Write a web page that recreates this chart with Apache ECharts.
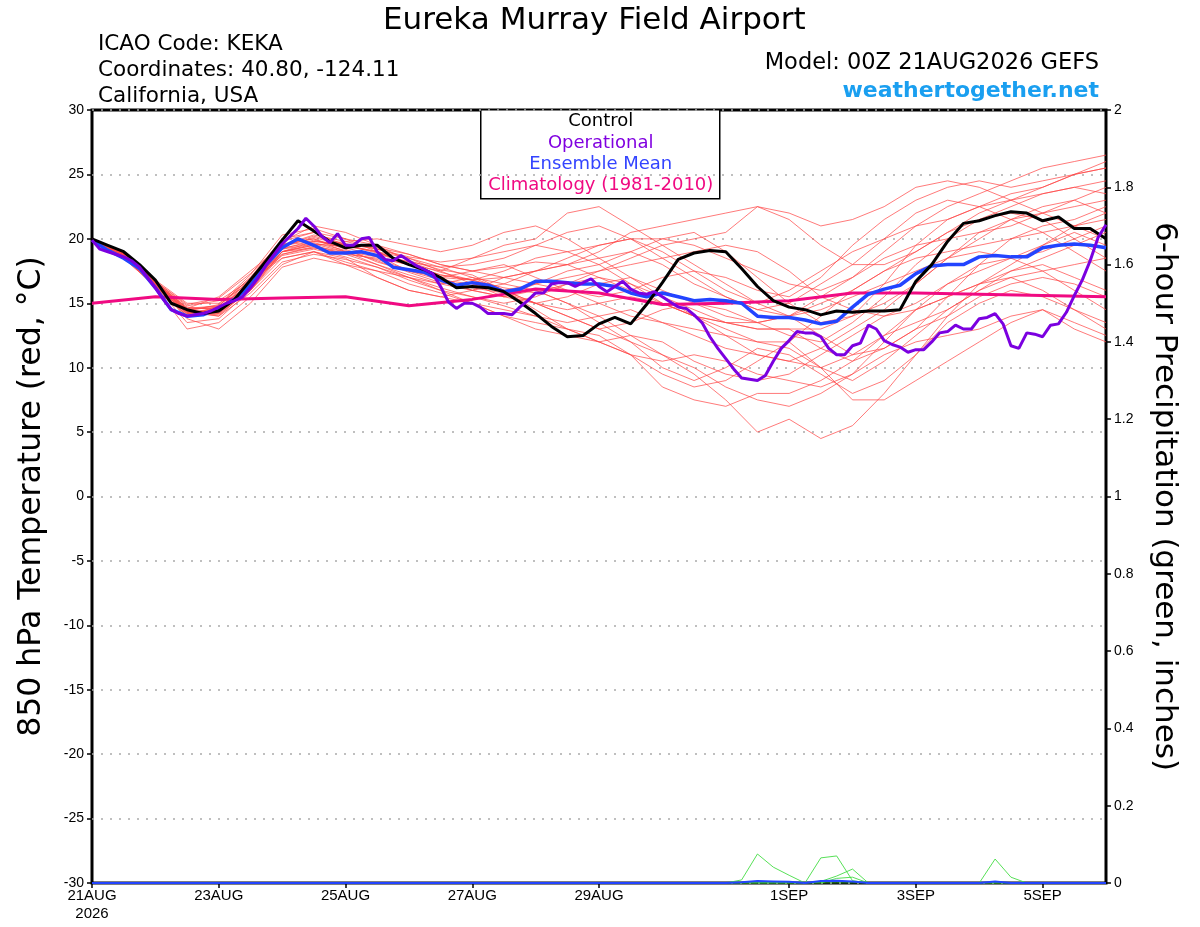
<!DOCTYPE html>
<html>
<head>
<meta charset="utf-8">
<script src="https://cdn.jsdelivr.net/npm/echarts@6/dist/echarts.min.js"></script>
<style>
html,body{margin:0;padding:0;background:#fff;}
#chart{width:1200px;height:927px;}
</style>
</head>
<body>
<div id="chart"></div>
<script>
// ---------- DATA ----------
// x-axis tick labels (days after 21AUG 00Z)
const tickDays = [0, 2, 4, 6, 8, 11, 13, 15];
const tickLabels = ['21AUG\n2026', '23AUG', '25AUG', '27AUG', '29AUG', '1SEP', '3SEP', '5SEP'];

// Control run, 6-hourly from 21AUG 00Z (°C)
const controlTemp = [20.0,19.5,19.0,18.0,16.8,15.0,14.5,14.2,14.4,15.3,16.8,18.3,19.9,21.4,20.6,19.8,19.3,19.5,19.5,18.5,18.0,17.6,17.0,16.2,16.3,16.2,15.9,15.1,14.2,13.2,12.4,12.5,13.4,13.9,13.4,14.9,16.6,18.4,18.9,19.1,19.0,17.7,16.3,15.2,14.7,14.5,14.1,14.4,14.3,14.4,14.4,14.5,16.7,18.0,19.8,21.2,21.4,21.8,22.1,22.0,21.4,21.7,20.8,20.8,20.0];

// Ensemble mean, 6-hourly (°C)
const meanTemp = [19.9,19.1,18.5,17.7,16.2,14.5,14.0,14.1,14.6,15.3,16.4,18.0,19.3,20.0,19.5,18.9,18.9,19.0,18.7,17.8,17.6,17.4,16.8,16.4,16.6,16.4,15.9,16.1,16.7,16.7,16.6,16.5,16.5,16.3,15.8,15.5,15.8,15.5,15.2,15.3,15.2,15.0,14.0,13.9,13.9,13.7,13.4,13.6,14.7,15.7,16.1,16.4,17.3,17.9,18.0,18.0,18.6,18.7,18.6,18.6,19.3,19.5,19.6,19.5,19.3];

// Operational run, 3-hourly (°C)
const operationalTemp = [19.9,19.2,19.0,18.8,18.6,18.3,17.8,17.0,16.2,15.3,14.5,14.2,14.0,14.1,14.2,14.4,14.7,15.0,15.2,15.5,16.2,17.0,18.0,18.8,19.6,20.2,20.8,21.6,21.0,20.2,19.7,20.4,19.5,19.5,20.0,20.1,19.0,18.4,18.3,18.7,18.3,17.9,17.6,17.3,16.3,15.1,14.6,15.0,15.0,14.7,14.2,14.2,14.2,14.1,14.7,15.2,15.8,15.8,16.5,16.6,16.6,16.3,16.6,16.9,16.3,15.9,16.3,16.7,16.1,15.8,15.7,15.9,15.5,15.1,14.7,14.6,14.1,13.5,12.4,11.5,10.7,9.9,9.2,9.1,9.0,9.4,10.5,11.5,12.1,12.8,12.7,12.7,12.4,11.5,11.0,11.0,11.7,11.9,13.3,13.0,12.1,11.8,11.6,11.2,11.4,11.4,12.0,12.7,12.8,13.3,13.0,13.0,13.8,13.9,14.2,13.4,11.7,11.5,12.7,12.6,12.4,13.3,13.4,14.3,15.6,16.8,18.3,20.1,21.1];

// Climatology (1981-2010), daily (°C)
const climoTemp = [15.0,15.5,15.3,15.4,15.5,14.8,15.3,16.1,15.8,14.9,15.0,15.2,15.8,15.8,15.7,15.6,15.5];

// Ensemble members, 12-hourly (°C)
const member01 = [20.0,18.8,16.4,14.0,14.8,17.0,20.0,20.5,19.5,19.0,18.0,17.5,18.5,19.5,20.0,22.0,22.5,21.0,19.5,18.0,16.5,15.0,14.0,15.5,17.0,19.0,21.0,22.5,23.5,24.5,25.5,26.0,26.5];
const member02 = [20.0,18.6,16.6,14.3,14.0,16.2,19.0,19.3,18.8,18.0,17.2,16.5,16.0,15.5,16.5,17.5,18.0,19.0,20.0,20.5,19.0,17.0,15.0,13.5,14.0,16.5,19.5,21.5,22.5,23.0,24.0,25.0,25.5];
const member03 = [20.0,18.9,16.7,14.8,15.2,16.8,18.5,19.0,18.2,17.5,16.5,15.8,15.0,14.0,13.5,13.0,12.5,11.0,8.5,7.5,7.0,8.0,8.0,9.0,10.5,12.5,14.5,15.5,16.5,17.5,18.5,19.5,20.5];
const member04 = [20.0,18.5,16.3,13.5,13.8,16.0,19.5,20.3,19.8,19.2,18.5,17.8,17.0,16.5,16.0,15.0,14.0,12.5,11.0,9.5,7.5,5.0,6.0,4.5,5.5,8.0,11.0,14.0,16.5,18.0,19.5,21.0,22.0];
const member05 = [20.0,18.7,16.2,13.0,13.5,15.5,18.0,19.0,18.5,17.0,16.0,15.5,16.0,17.0,17.5,18.0,19.0,20.5,21.0,21.5,22.0,22.5,22.0,21.0,21.5,22.5,24.0,24.5,24.0,23.0,22.0,21.0,20.0];
const member06 = [20.0,18.8,16.5,14.5,14.2,16.3,19.8,21.0,20.5,19.5,18.3,17.6,17.2,16.0,15.0,14.0,13.0,13.5,14.5,15.0,14.5,13.5,12.5,12.0,13.5,15.5,18.0,20.0,21.5,22.0,21.5,20.0,18.5];
const member07 = [20.0,18.6,16.6,14.6,14.6,16.8,19.2,19.6,19.0,18.6,18.0,17.2,16.8,17.5,18.5,19.0,18.0,16.5,15.0,14.0,13.5,13.0,13.0,11.5,10.5,11.5,13.0,14.0,15.5,16.5,17.0,16.5,15.5];
const member08 = [20.0,18.7,16.4,14.2,14.4,16.0,18.8,19.4,19.0,18.8,18.2,17.8,18.0,18.5,19.5,20.5,21.0,20.0,18.5,17.0,15.5,14.5,15.0,16.5,18.0,20.0,22.0,23.0,22.5,21.5,20.5,19.0,17.5];
const member09 = [20.0,18.9,16.8,15.0,15.0,16.6,18.7,19.2,18.6,17.8,16.8,16.0,15.5,14.8,14.0,13.5,14.0,14.5,13.5,12.5,11.5,11.0,10.5,10.0,11.0,12.5,13.5,14.5,16.0,17.5,18.0,17.0,16.0];
const member10 = [20.0,18.6,16.4,14.4,14.9,17.2,20.3,20.8,20.0,19.5,18.8,18.0,17.5,17.0,16.5,16.0,15.5,16.0,17.0,17.5,17.0,16.0,15.5,17.0,19.5,21.5,23.0,24.0,24.5,24.0,24.5,25.0,25.5];
const member11 = [20.0,18.8,16.5,13.8,13.0,15.0,17.8,18.5,18.0,17.5,17.0,16.0,15.0,14.5,14.0,13.0,12.0,11.0,10.5,11.0,10.5,9.5,9.0,8.5,9.5,12.0,14.5,16.5,18.0,18.5,19.0,20.0,21.0];
const member12 = [20.0,18.7,16.6,14.7,14.5,16.5,19.0,19.6,19.4,19.0,18.5,17.5,16.5,15.5,15.0,15.5,16.5,17.0,16.0,15.0,14.0,13.5,14.0,14.5,15.5,16.5,17.5,18.5,19.0,18.5,17.5,16.0,14.5];
const member13 = [20.0,18.5,16.3,14.3,14.6,16.5,19.5,20.0,19.2,18.2,17.5,17.0,17.5,18.0,17.0,16.0,15.0,14.0,13.5,13.0,12.5,12.0,12.0,10.0,7.5,7.5,9.0,10.5,12.0,13.5,14.5,13.0,12.0];
const member14 = [20.0,18.8,16.7,14.6,15.5,17.5,19.5,19.8,19.5,19.0,18.0,16.8,16.0,16.5,17.5,18.5,19.5,20.0,20.0,19.5,18.5,17.5,16.5,16.0,17.0,18.5,19.5,20.0,20.5,21.0,22.0,23.0,24.0];
const member15 = [20.0,18.7,16.4,14.1,14.2,16.0,19.0,19.5,18.8,18.5,18.0,17.2,16.8,16.0,15.0,14.5,15.0,15.5,15.0,14.0,13.0,12.0,11.5,10.0,9.0,10.5,12.5,14.5,16.0,17.0,17.5,18.0,18.5];
const member16 = [20.0,18.6,16.5,14.5,14.8,16.8,19.5,20.2,19.6,19.3,18.8,18.0,17.5,17.8,18.2,18.0,17.0,16.0,15.0,14.0,13.5,13.5,14.0,15.0,16.0,17.5,18.5,19.0,19.5,20.0,20.5,21.0,21.5];
const member17 = [20.0,18.8,16.6,14.4,14.0,15.8,18.2,18.8,18.4,17.8,17.0,16.2,15.5,15.0,15.5,16.5,17.0,16.5,15.5,14.5,13.5,13.0,13.0,13.0,14.0,15.0,16.5,18.5,20.0,21.5,22.5,23.0,22.0];
const member18 = [20.0,18.7,16.3,14.0,14.3,16.2,19.2,19.9,19.3,18.7,17.5,16.8,16.5,16.0,16.5,17.0,17.5,18.0,18.5,19.0,19.5,19.0,17.5,15.5,14.5,14.0,14.5,15.5,16.5,17.0,16.0,14.5,13.0];
const member19 = [20.0,18.6,16.6,14.5,14.7,16.5,18.8,19.3,18.9,18.4,17.6,17.0,16.8,17.0,17.5,18.0,18.5,19.0,18.0,16.5,15.5,14.5,14.0,12.5,11.0,11.5,13.0,15.5,18.0,20.0,21.0,21.5,22.5];
const member20 = [20.0,18.9,16.5,14.2,14.5,16.4,19.4,20.1,19.5,18.9,18.2,17.4,16.8,16.2,15.8,16.5,17.5,18.5,19.5,20.0,20.5,22.5,21.5,19.5,18.0,18.0,19.0,20.5,22.0,23.0,23.5,24.0,23.5];
const member21 = [20.0,18.7,16.5,14.4,14.3,16.0,18.5,19.0,18.0,17.0,16.0,15.5,15.0,14.0,13.0,12.5,12.0,11.0,9.5,8.5,9.0,10.5,12.0,14.0,16.0,17.5,19.0,20.5,21.5,22.5,23.5,24.0,24.5];
const member22 = [20.0,18.8,16.6,14.6,14.8,17.0,19.8,20.5,20.0,19.0,18.0,17.0,16.0,15.5,16.0,15.0,13.5,12.0,10.0,9.0,10.0,11.5,11.0,9.5,8.0,9.0,11.0,13.5,15.0,16.0,15.5,14.5,13.5];
const member23 = [20.0,18.6,16.4,14.2,14.6,16.6,19.0,19.5,19.8,20.0,19.5,19.0,19.5,20.5,21.0,20.0,18.5,17.0,15.5,14.0,12.5,11.0,10.5,11.5,13.0,14.5,16.5,18.5,20.5,21.5,22.0,22.5,23.0];
const member24 = [20.0,18.9,16.7,14.9,15.4,17.3,19.6,20.0,19.0,18.0,17.0,16.5,17.0,16.0,14.5,13.0,12.0,12.5,12.0,10.5,9.5,9.0,9.5,11.0,12.5,14.0,15.0,16.5,17.5,18.5,19.5,20.5,19.5];
const member25 = [20.0,18.7,16.5,14.3,14.1,16.1,19.0,19.8,19.6,19.2,18.6,18.2,18.5,19.0,19.5,19.0,19.5,20.0,19.0,17.5,16.0,15.0,16.0,17.5,19.0,20.0,21.0,21.5,22.5,23.5,24.0,25.0,26.0];
const member26 = [20.0,18.8,16.3,14.0,14.4,16.3,19.3,19.7,19.1,18.3,17.4,16.6,16.2,15.8,15.0,14.0,13.0,12.0,11.0,10.0,8.5,7.5,7.0,8.0,9.5,11.0,12.0,12.5,13.0,14.0,14.5,13.5,12.5];

// 6-hour precipitation (inches), 6-hourly
const precipMemberA = [0,0,0,0,0,0,0,0,0,0,0,0,0,0,0,0,0,0,0,0,0,0,0,0,0,0,0,0,0,0,0,0,0,0,0,0,0,0,0,0,0,0.008,0.075,0.041,0.02,0,0.065,0.07,0.006,0,0,0,0,0,0,0,0,0,0,0,0,0,0,0,0];
const precipMemberB = [0,0,0,0,0,0,0,0,0,0,0,0,0,0,0,0,0,0,0,0,0,0,0,0,0,0,0,0,0,0,0,0,0,0,0,0,0,0,0,0,0,0,0,0,0,0,0.004,0.018,0.036,0,0,0,0,0,0,0,0,0,0,0,0,0,0,0,0];
const precipMemberC = [0,0,0,0,0,0,0,0,0,0,0,0,0,0,0,0,0,0,0,0,0,0,0,0,0,0,0,0,0,0,0,0,0,0,0,0,0,0,0,0,0,0,0,0,0,0,0,0.012,0.015,0,0,0,0,0,0,0,0,0,0,0,0,0,0,0,0];
const precipMemberD = [0,0,0,0,0,0,0,0,0,0,0,0,0,0,0,0,0,0,0,0,0,0,0,0,0,0,0,0,0,0,0,0,0,0,0,0,0,0,0,0,0,0,0,0,0,0,0,0,0,0,0,0,0,0,0,0,0,0.062,0.015,0,0,0,0,0,0];
const precipMean = [0,0,0,0,0,0,0,0,0,0,0,0,0,0,0,0,0,0,0,0,0,0,0,0,0,0,0,0,0,0,0,0,0,0,0,0,0,0,0,0,0,0.002,0.005,0.004,0.003,0,0.005,0.006,0.004,0,0,0,0,0,0,0,0,0.004,0,0,0,0,0,0,0];

// ---------- CHART ----------
const members = [member01,member02,member03,member04,member05,member06,member07,member08,member09,member10,
                 member11,member12,member13,member14,member15,member16,member17,member18,member19,member20,
                 member21,member22,member23,member24,member25,member26];
const precipMembers = [precipMemberA, precipMemberB, precipMemberC, precipMemberD];

const toPairs = (arr, stepHours) => arr.map((v, i) => [i * stepHours, v]);
const tickHours = tickDays.map(d => d * 24);
const labelFor = {};
tickHours.forEach((h, i) => { labelFor[h] = tickLabels[i]; });

const FONT = 'Liberation Sans, Arial, Helvetica, sans-serif';
const WIDE = 'DejaVu Sans, Liberation Sans, sans-serif';

const series = [];
members.forEach((m, idx) => {
  series.push({
    name: 'member' + (idx + 1), type: 'line', data: toPairs(m, 12),
    showSymbol: false, silent: true, animation: false, z: 2,
    lineStyle: { color: 'rgba(255,70,70,0.8)', width: 0.9 }
  });
});
precipMembers.forEach((p, idx) => {
  series.push({
    name: 'precip' + (idx + 1), type: 'line', yAxisIndex: 1, data: toPairs(p, 6),
    showSymbol: false, silent: true, animation: false, z: 3,
    lineStyle: { color: '#44dd44', width: 0.9 }
  });
});
series.push({
  name: 'Ensemble Mean Precip', type: 'line', yAxisIndex: 1, data: toPairs(precipMean, 6),
  showSymbol: false, silent: true, animation: false, z: 3,
  lineStyle: { color: '#2244ff', width: 2 }
});
series.push({
  name: 'Climatology (1981-2010)', type: 'line', data: toPairs(climoTemp, 24),
  showSymbol: false, silent: true, animation: false, z: 4,
  lineStyle: { color: '#f00a82', width: 3 }
});
series.push({
  name: 'Ensemble Mean', type: 'line', data: toPairs(meanTemp, 6),
  showSymbol: false, silent: true, animation: false, z: 5,
  lineStyle: { color: '#2244ff', width: 3.5 }
});
series.push({
  name: 'Control', type: 'line', data: toPairs(controlTemp, 6),
  showSymbol: false, silent: true, animation: false, z: 6,
  lineStyle: { color: '#000000', width: 3 }
});
series.push({
  name: 'Operational', type: 'line', data: toPairs(operationalTemp, 3),
  showSymbol: false, silent: true, animation: false, z: 7,
  lineStyle: { color: '#7b00e0', width: 3 }
});

const legendItems = [
  { text: 'Control', color: '#000000' },
  { text: 'Operational', color: '#8000e0' },
  { text: 'Ensemble Mean', color: '#3344ff' },
  { text: 'Climatology (1981-2010)', color: '#f00a82' }
];

const chart = echarts.init(document.getElementById('chart'), null, { renderer: 'canvas' });
chart.setOption({
  backgroundColor: '#ffffff',
  animation: false,
  textStyle: { fontFamily: FONT },
  title: [
    { text: 'Eureka Murray Field Airport', left: 378, top: 0,
      textStyle: { fontFamily: WIDE, fontSize: 31, fontWeight: 'normal', color: '#000' } },
    { text: 'ICAO Code: KEKA\nCoordinates: 40.80, -124.11\nCalifornia, USA', left: 93, top: 26,
      textStyle: { fontFamily: WIDE, fontSize: 21.5, fontWeight: 'normal', color: '#000', lineHeight: 26 } },
    { text: 'Model: 00Z 21AUG2026 GEFS', right: 96, top: 47,
      textStyle: { fontFamily: WIDE, fontSize: 22.5, fontWeight: 'normal', color: '#000' } },
    { text: 'weathertogether.net', right: 96, top: 75,
      textStyle: { fontFamily: WIDE, fontSize: 22, fontWeight: 'bold', color: '#1a9ff0' } }
  ],
  grid: { left: 92, right: 94, top: 110, bottom: 44, show: true, borderColor: '#000', borderWidth: 3, backgroundColor: 'transparent' },
  xAxis: {
    type: 'value', min: 0, max: 384,
    axisLine: { show: false, onZero: false },
    splitLine: { show: false },
    axisTick: { show: true, customValues: tickHours, length: 5, lineStyle: { color: '#000', width: 1.5 } },
    axisLabel: { customValues: tickHours, formatter: v => labelFor[v] || '', fontFamily: FONT, fontSize: 15, color: '#000', margin: 4, lineHeight: 18 }
  },
  yAxis: [
    {
      type: 'value', min: -30, max: 30, interval: 5, position: 'left',
      name: '850 hPa Temperature (red, °C)', nameLocation: 'middle', nameGap: 44, nameRotate: 90,
      nameTextStyle: { fontFamily: WIDE, fontSize: 31.5, color: '#000' },
      axisLine: { show: false },
      axisTick: { show: true, length: 5, lineStyle: { color: '#000', width: 1.5 } },
      axisLabel: { fontFamily: FONT, fontSize: 14, color: '#000', margin: 8 },
      splitLine: { show: true, lineStyle: { color: '#aaaaaa', width: 1.5, type: [2, 7] } }
    },
    {
      type: 'value', min: 0, max: 2, interval: 0.2, position: 'right',
      name: '6-hour Precipitation (green, inches)', nameLocation: 'middle', nameGap: 43, nameRotate: -90,
      nameTextStyle: { fontFamily: WIDE, fontSize: 31, color: '#000' },
      axisLine: { show: false },
      axisTick: { show: true, length: 5, lineStyle: { color: '#000', width: 1.5 } },
      axisLabel: { fontFamily: FONT, fontSize: 14, color: '#000', margin: 8 },
      splitLine: { show: false }
    }
  ],
  graphic: [
    {
      type: 'group', left: 480, top: 109, z: 100,
      children: [
        { type: 'rect', shape: { x: 0, y: 0, width: 239, height: 89 },
          style: { fill: '#ffffff', stroke: '#000', lineWidth: 1.5 } }
      ].concat(legendItems.map((it, i) => ({
        type: 'text', x: 120, y: 3 + i * 21.3,
        style: { text: it.text, fill: it.color, font: '18px ' + WIDE, textAlign: 'center', textVerticalAlign: 'top' }
      })))
    }
  ],
  series: series
});
</script>
</body>
</html>
